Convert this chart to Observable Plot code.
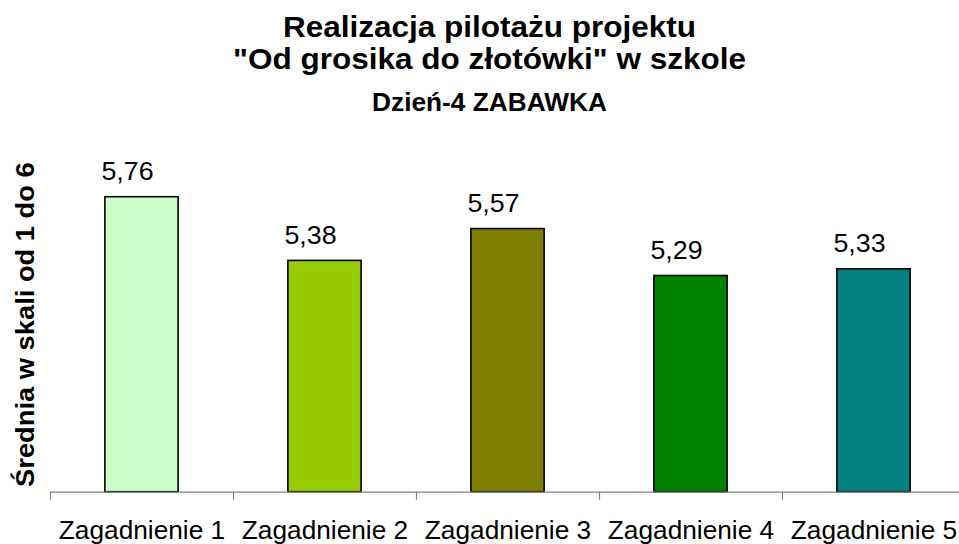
<!DOCTYPE html>
<html>
<head>
<meta charset="utf-8">
<script src="https://cdn.jsdelivr.net/npm/d3@7"></script>
<script src="https://cdn.jsdelivr.net/npm/@observablehq/plot@0.6"></script>
<style>
  html, body { margin: 0; padding: 0; background: #fff; }
  body { width: 959px; height: 544px; overflow: hidden; font-family: "Liberation Sans", Arial, sans-serif; }
  #title { height: 130px; box-sizing: border-box; padding-top: 10.5px; padding-left: 20px; text-align: center; color: #000; font-weight: bold; }
  #title div { transform: scaleX(1.05); transform-origin: center; white-space: nowrap; }
  .t1 { font-size: 30px; line-height: 32px; height: 32px; }
  .t3 { font-size: 25px; line-height: 54px; height: 54px; }
  #chart svg { display: block; }
</style>
</head>
<body>
<div id="title">
  <div class="t1">Realizacja pilotażu projektu</div>
  <div class="t1">"Od grosika do złotówki" w szkole</div>
  <div class="t3">Dzień-4 ZABAWKA</div>
</div>
<div id="chart"></div>
<script>
const categories = ["Zagadnienie 1", "Zagadnienie 2", "Zagadnienie 3", "Zagadnienie 4", "Zagadnienie 5"];
const values = [5.76, 5.38, 5.57, 5.29, 5.33];
const colors = ["#CCFFCC", "#99CC00", "#808000", "#008000", "#008080"];
const yDomain = [4, 6];
const yLabel = "Średnia w skali od 1 do 6";

const data = categories.map((c, i) => ({cat: c, value: values[i], color: colors[i]}));
const fmt = v => v.toFixed(2).replace(".", ",");

const W = 959, H = 414;
const xRange = [50, 965];
const halfStep = (xRange[1] - xRange[0]) / categories.length / 2;

const svg = Plot.plot({
  width: W,
  height: H,
  marginLeft: 50,
  marginRight: 0,
  marginTop: 26.5,
  marginBottom: 52.3,
  style: {fontFamily: '"Liberation Sans", Arial, sans-serif', color: "#000", background: "#fff", overflow: "visible"},
  x: {domain: categories, range: xRange, paddingInner: 0.6, paddingOuter: 0.3, round: false, label: null, axis: null},
  y: {domain: yDomain, range: [361.7, 26.5], axis: null, label: null},
  color: {type: "identity"},
  marks: [
    Plot.barY(data, {x: "cat", y1: yDomain[0], y2: "value", fill: "color", stroke: "#000", strokeWidth: 1.6}),
    Plot.ruleY([yDomain[0]], {stroke: "#808080", strokeWidth: 1.2}),
    Plot.axisX({tickSize: 8, tickFormat: () => "", stroke: "#808080", strokeWidth: 1.2, dx: -halfStep}),
    Plot.axisX({tickSize: 0, tickPadding: 29, fontSize: 25, fill: "#000"}),
    Plot.text(data, {x: "cat", y: "value", text: d => fmt(d.value), lineAnchor: "bottom", dx: -14.5, dy: -17, fontSize: 25.5, fill: "#000"}),
    Plot.text([yLabel], {frameAnchor: "left", textAnchor: "middle", rotate: -90, lineAnchor: "bottom", dx: -16.7, fontSize: 26, fontWeight: "bold", fill: "#000"})
  ]
});

document.getElementById("chart").appendChild(svg);

// slight horizontal stretch of text glyphs to mimic the reference's wide lettering
svg.querySelectorAll("text").forEach(t => {
  if (!t.textContent) return;
  const len = t.getComputedTextLength();
  if (len > 0) {
    t.setAttribute("textLength", (len * 1.05).toFixed(2));
    t.setAttribute("lengthAdjust", "spacingAndGlyphs");
  }
});
</script>
</body>
</html>
